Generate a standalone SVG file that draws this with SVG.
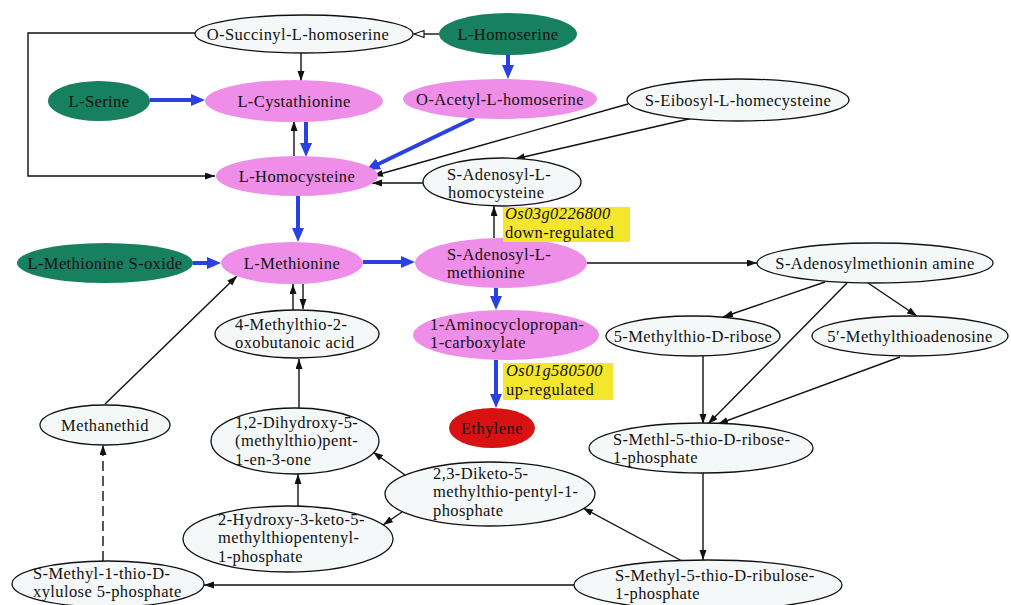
<svg xmlns="http://www.w3.org/2000/svg" width="1011" height="605" viewBox="0 0 1011 605">
<defs>
<style>
text{font-family:"Liberation Serif","Times New Roman",serif;font-size:16.5px;letter-spacing:0.4px;fill:#111}
.c{text-anchor:middle}
.l{text-anchor:start}
.it{font-style:italic}
.light{fill:#f5f8f8;stroke:#111;stroke-width:1.3}
.pink{fill:#ee8ee8;stroke:none}
.green{fill:#16805f;stroke:none}
.red{fill:#d81212;stroke:none}
.tag{fill:#f3e62b;stroke:none}
.e{fill:none;stroke:#111;stroke-width:1.4}
.b{fill:none;stroke:#2b40e0;stroke-width:4}
</style>
<marker id="ak" markerUnits="userSpaceOnUse" markerWidth="11" markerHeight="8" refX="10" refY="3.5" orient="auto"><path d="M0,0 L10,3.5 L0,7 z" fill="#111"/></marker>
<marker id="ao" markerUnits="userSpaceOnUse" markerWidth="12" markerHeight="10" refX="11" refY="4.5" orient="auto"><path d="M1,1 L11,4.5 L1,8 z" fill="#fff" stroke="#111" stroke-width="1.2"/></marker>
<marker id="ab" markerUnits="userSpaceOnUse" markerWidth="15" markerHeight="13" refX="6" refY="6" orient="auto"><path d="M0,0 L14,6 L0,12 z" fill="#2b40e0"/></marker>
</defs>
<rect width="1011" height="605" fill="#fff"/>
<g id="connectors">
<polyline class="e" points="195,33 28,33 28,176 215,176" marker-end="url(#ak)"/>
<line class="e" x1="439" y1="34" x2="414" y2="34" marker-end="url(#ao)"/>
<line class="e" x1="301" y1="53" x2="301" y2="81" marker-end="url(#ak)"/>
<line class="e" x1="294" y1="156" x2="294" y2="121" marker-end="url(#ak)"/>
<line class="e" x1="628" y1="104" x2="373" y2="176" marker-end="url(#ak)"/>
<line class="e" x1="693" y1="118" x2="515" y2="159" marker-end="url(#ak)"/>
<line class="e" x1="423" y1="183" x2="372" y2="183" marker-end="url(#ak)"/>
<line class="e" x1="494" y1="238" x2="494" y2="206" marker-end="url(#ak)"/>
<line class="e" x1="587" y1="263" x2="757" y2="263" marker-end="url(#ak)"/>
<line class="e" x1="303" y1="284" x2="303" y2="309" marker-end="url(#ak)"/>
<line class="e" x1="293" y1="310" x2="293" y2="284" marker-end="url(#ak)"/>
<line class="e" x1="825" y1="282" x2="723" y2="317" marker-end="url(#ak)"/>
<line class="e" x1="847" y1="283" x2="708" y2="424" marker-end="url(#ak)"/>
<line class="e" x1="868" y1="283" x2="917" y2="316" marker-end="url(#ak)"/>
<line class="e" x1="703" y1="356" x2="703" y2="424" marker-end="url(#ak)"/>
<line class="e" x1="900" y1="357" x2="718" y2="424" marker-end="url(#ak)"/>
<line class="e" x1="703" y1="473" x2="703" y2="560" marker-end="url(#ak)"/>
<line class="e" x1="682" y1="561" x2="583" y2="508" marker-end="url(#ak)"/>
<line class="e" x1="574" y1="585" x2="204" y2="585" marker-end="url(#ak)"/>
<line class="e" x1="405" y1="475" x2="373" y2="452" marker-end="url(#ak)"/>
<line class="e" x1="402" y1="512" x2="383" y2="525" marker-end="url(#ak)"/>
<line class="e" x1="298" y1="506" x2="298" y2="474" marker-end="url(#ak)"/>
<line class="e" x1="299" y1="408" x2="299" y2="359" marker-end="url(#ak)"/>
<line class="e" x1="103" y1="561" x2="103" y2="445" stroke-dasharray="10,5" marker-end="url(#ak)"/>
<line class="e" x1="105" y1="404" x2="237" y2="276" marker-end="url(#ak)"/>
<line class="b" x1="150" y1="100" x2="197" y2="100" marker-end="url(#ab)"/>
<line class="b" x1="508" y1="55" x2="508" y2="71" marker-end="url(#ab)"/>
<line class="b" x1="306" y1="122" x2="306" y2="149" marker-end="url(#ab)"/>
<line class="b" x1="474" y1="118" x2="373.2" y2="166.5" marker-end="url(#ab)"/>
<line class="b" x1="298" y1="196" x2="298" y2="234" marker-end="url(#ab)"/>
<line class="b" x1="193" y1="263" x2="213" y2="263" marker-end="url(#ab)"/>
<line class="b" x1="363" y1="262" x2="407" y2="262" marker-end="url(#ab)"/>
<line class="b" x1="496" y1="288" x2="496" y2="302" marker-end="url(#ab)"/>
<line class="b" x1="496" y1="360" x2="496" y2="400" marker-end="url(#ab)"/>
</g>
<g id="n-osuccinyl"><ellipse class="light" cx="304" cy="34" rx="109" ry="19"/><text class="c" x="298" y="39.5">O-Succinyl-L-homoserine</text></g>
<g id="n-homoserine"><ellipse class="green" cx="508" cy="34" rx="69" ry="21"/><text class="c" x="508" y="39.5">L-Homoserine</text></g>
<g id="n-serine"><ellipse class="green" cx="99" cy="101" rx="51" ry="20"/><text class="c" x="99" y="106.5">L-Serine</text></g>
<g id="n-cystathionine"><ellipse class="pink" cx="294" cy="101" rx="89" ry="21"/><text class="c" x="294" y="106.5">L-Cystathionine</text></g>
<g id="n-oacetyl"><ellipse class="pink" cx="500" cy="99" rx="97" ry="20"/><text class="c" x="500" y="104.5">O-Acetyl-L-homoserine</text></g>
<g id="n-seibosyl"><ellipse class="light" cx="738" cy="100" rx="111" ry="21"/><text class="c" x="738" y="105.5">S-Eibosyl-L-homecysteine</text></g>
<g id="n-homocysteine"><ellipse class="pink" cx="297" cy="176" rx="81" ry="20"/><text class="c" x="297" y="181.5">L-Homocysteine</text></g>
<g id="n-sah"><ellipse class="light" cx="502" cy="182" rx="79" ry="24"/><text class="l" x="447" y="179.8">S-Adenosyl-L-</text><text class="l" x="448" y="198.3">homocysteine</text></g>
<g id="n-metso"><ellipse class="green" cx="105" cy="263" rx="88" ry="20"/><text class="c" x="105" y="268.5">L-Methionine S-oxide</text></g>
<g id="n-met"><ellipse class="pink" cx="292" cy="263" rx="71" ry="21"/><text class="c" x="292" y="268.5">L-Methionine</text></g>
<g id="n-sam"><ellipse class="pink" cx="501" cy="263" rx="86" ry="25"/><text class="l" x="447" y="259.8">S-Adenosyl-L-</text><text class="l" x="447" y="278.3">methionine</text></g>
<g id="n-samamine"><ellipse class="light" cx="875" cy="263" rx="118" ry="20"/><text class="c" x="875" y="268.5">S-Adenosylmethionin amine</text></g>
<g id="n-mtob"><ellipse class="light" cx="297" cy="334" rx="82" ry="24"/><text class="l" x="235" y="329.8">4-Methylthio-2-</text><text class="l" x="235" y="348.3">oxobutanoic acid</text></g>
<g id="n-acc"><ellipse class="pink" cx="506" cy="335" rx="93" ry="25"/><text class="l" x="430" y="329.8">1-Aminocyclopropan-</text><text class="l" x="430" y="348.3">1-carboxylate</text></g>
<g id="n-mtr"><ellipse class="light" cx="693" cy="336" rx="87" ry="20"/><text class="c" x="693" y="341.5">5-Methylthio-D-ribose</text></g>
<g id="n-mta"><ellipse class="light" cx="910" cy="336" rx="98" ry="20"/><text class="c" x="910" y="341.5">5′-Methylthioadenosine</text></g>
<g id="tag-os03"><rect class="tag" x="503" y="207" width="127" height="35"/><text class="l it" x="505" y="219.3">Os03g0226800</text><text class="l" x="505" y="237.8">down-regulated</text></g>
<g id="tag-os01"><rect class="tag" x="503" y="363" width="110" height="37"/><text class="l it" x="506" y="376.3">Os01g580500</text><text class="l" x="506" y="394.8">up-regulated</text></g>
<g id="n-ethylene"><ellipse class="red" cx="492" cy="428" rx="43" ry="20"/><text class="c" x="492" y="433.5">Ethylene</text></g>
<g id="n-methanethid"><ellipse class="light" cx="105" cy="425" rx="65" ry="20"/><text class="c" x="105" y="430.5">Methanethid</text></g>
<g id="n-dhmp"><ellipse class="light" cx="295" cy="441" rx="84" ry="33"/><text class="l" x="235" y="427.8">1,2-Dihydroxy-5-</text><text class="l" x="235" y="446.3">(methylthio)pent-</text><text class="l" x="235" y="464.8">1-en-3-one</text></g>
<g id="n-mtr1p"><ellipse class="light" cx="701" cy="448" rx="112" ry="25"/><text class="l" x="613" y="444.8">S-Methl-5-thio-D-ribose-</text><text class="l" x="613" y="463.3">1-phosphate</text></g>
<g id="n-diketo"><ellipse class="light" cx="490" cy="494" rx="105" ry="32"/><text class="l" x="433" y="478.5">2,3-Diketo-5-</text><text class="l" x="433" y="497">methylthio-pentyl-1-</text><text class="l" x="433" y="515.5">phosphate</text></g>
<g id="n-hk"><ellipse class="light" cx="288" cy="539" rx="105" ry="33"/><text class="l" x="218" y="524.5">2-Hydroxy-3-keto-5-</text><text class="l" x="218" y="543">methylthiopentenyl-</text><text class="l" x="218" y="561.5">1-phosphate</text></g>
<g id="n-xylulose"><ellipse class="light" cx="108" cy="584" rx="96" ry="23"/><text class="l" x="33" y="578.8">S-Methyl-1-thio-D-</text><text class="l" x="33" y="597.3">xylulose 5-phosphate</text></g>
<g id="n-ribulose"><ellipse class="light" cx="708" cy="585" rx="134" ry="25"/><text class="l" x="615" y="580.8">S-Methyl-5-thio-D-ribulose-</text><text class="l" x="615" y="599.3">1-phosphate</text></g>
</svg>
